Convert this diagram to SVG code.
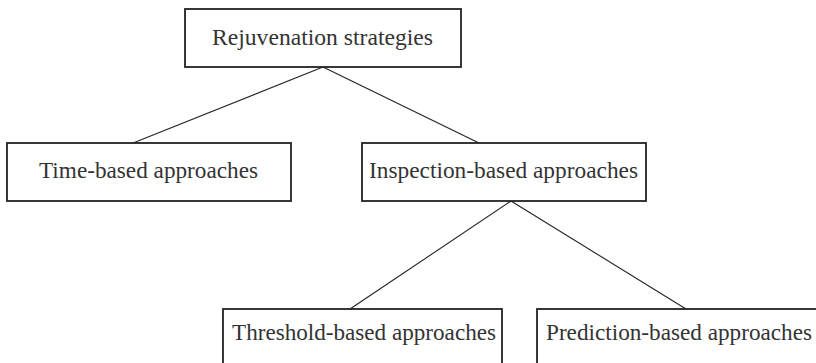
<svg xmlns="http://www.w3.org/2000/svg" width="816" height="363" viewBox="0 0 816 363">
  <style>
    .box { fill: #ffffff; stroke: #222222; stroke-width: 1.8; }
    .label { font-family: "Liberation Serif", "DejaVu Serif", serif; font-size: 23px; fill: #333333; }
    .edge { stroke: #222222; stroke-width: 1.1; fill: none; }
  </style>
  <rect x="0" y="0" width="816" height="363" fill="#ffffff"/>

  <!-- tree connectors -->
  <g id="connectors">
    <line class="edge" x1="323" y1="67" x2="133" y2="143"/>
    <line class="edge" x1="323" y1="67" x2="479" y2="143"/>
    <line class="edge" x1="511" y1="201" x2="350" y2="309"/>
    <line class="edge" x1="511" y1="201" x2="686" y2="309"/>
  </g>

  <g id="rejuvenation-strategies">
    <rect class="box" x="185" y="9" width="276" height="58"/>
    <text class="label" x="212" y="45" textLength="221" lengthAdjust="spacingAndGlyphs">Rejuvenation strategies</text>
  </g>

  <g id="time-based">
    <rect class="box" x="7" y="143" width="284" height="58"/>
    <text class="label" x="39" y="178" textLength="219" lengthAdjust="spacingAndGlyphs">Time-based approaches</text>
  </g>

  <g id="inspection-based">
    <rect class="box" x="362" y="143" width="284" height="58"/>
    <text class="label" x="369" y="178" textLength="269" lengthAdjust="spacingAndGlyphs">Inspection-based approaches</text>
  </g>

  <g id="threshold-based">
    <rect class="box" x="223" y="309" width="279" height="60"/>
    <text class="label" x="232" y="340" textLength="264" lengthAdjust="spacingAndGlyphs">Threshold-based approaches</text>
  </g>

  <g id="prediction-based">
    <rect class="box" x="537" y="309" width="284" height="60"/>
    <text class="label" x="546" y="340" textLength="266" lengthAdjust="spacingAndGlyphs">Prediction-based approaches</text>
  </g>
</svg>
